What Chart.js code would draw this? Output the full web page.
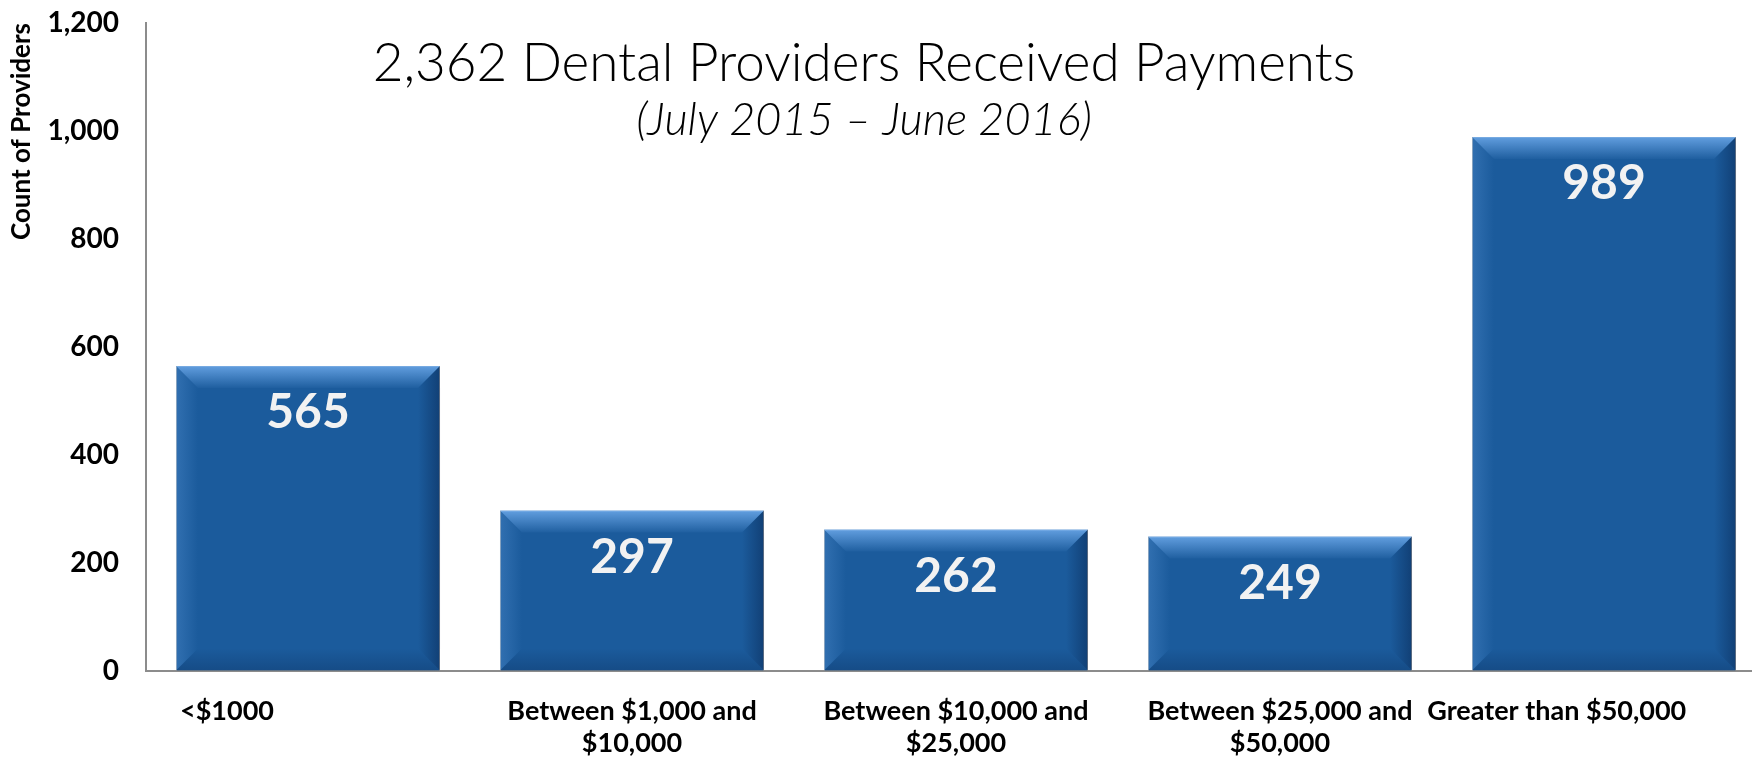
<!DOCTYPE html>
<html><head><meta charset="utf-8">
<script src="https://cdn.jsdelivr.net/npm/chart.js@4/dist/chart.umd.min.js"></script>
<style>
html,body{margin:0;padding:0;background:#fff;overflow:hidden;width:1752px;height:759px}
#wrap{position:absolute;left:0;top:0;width:1766px;height:759px}
</style></head><body><div id="wrap"><canvas id="c" width="1766" height="759"></canvas></div>
<script>
const categories = [["<$1000"], ["Between $1,000 and", "$10,000"], ["Between $10,000 and", "$25,000"], ["Between $25,000 and", "$50,000"], ["Greater than $50,000"]];
const providerCounts = [565, 297, 262, 249, 989];
const yTicks = [0, 200, 400, 600, 800, 1000, 1200];
const titleText = "2,362 Dental Providers Received Payments";
const subtitleText = "(July 2015 \u2013 June 2016)";
const yAxisTitle = "Count of Providers";

const FONT = "Lato, 'Open Sans', 'DejaVu Sans', sans-serif";

const bevelPlugin = {
  id: 'bevel',
  afterDatasetsDraw(chart) {
    const ctx = chart.ctx;
    const meta = chart.getDatasetMeta(0);
    meta.data.forEach((bar, i) => {
      const l = bar.x - bar.width / 2, r = bar.x + bar.width / 2;
      const t = bar.y, btm = bar.base;
      const b = 22;
      ctx.save();
      let g = ctx.createLinearGradient(0, t, 0, t + b);
      g.addColorStop(0, 'rgba(110,170,235,0.85)');
      g.addColorStop(1, 'rgba(110,170,235,0.05)');
      ctx.fillStyle = g;
      ctx.beginPath(); ctx.moveTo(l, t); ctx.lineTo(r, t); ctx.lineTo(r - b, t + b); ctx.lineTo(l + b, t + b); ctx.closePath(); ctx.fill();
      g = ctx.createLinearGradient(l, 0, l + b, 0);
      g.addColorStop(0, 'rgba(90,150,215,0.35)');
      g.addColorStop(1, 'rgba(90,150,215,0.0)');
      ctx.fillStyle = g;
      ctx.beginPath(); ctx.moveTo(l, t); ctx.lineTo(l + b, t + b); ctx.lineTo(l + b, btm - b); ctx.lineTo(l, btm); ctx.closePath(); ctx.fill();
      g = ctx.createLinearGradient(r, 0, r - b, 0);
      g.addColorStop(0, 'rgba(5,30,70,0.45)');
      g.addColorStop(1, 'rgba(5,30,70,0.0)');
      ctx.fillStyle = g;
      ctx.beginPath(); ctx.moveTo(r, t); ctx.lineTo(r, btm); ctx.lineTo(r - b, btm - b); ctx.lineTo(r - b, t + b); ctx.closePath(); ctx.fill();
      g = ctx.createLinearGradient(0, btm, 0, btm - b);
      g.addColorStop(0, 'rgba(5,30,70,0.25)');
      g.addColorStop(1, 'rgba(5,30,70,0.0)');
      ctx.fillStyle = g;
      ctx.beginPath(); ctx.moveTo(l, btm); ctx.lineTo(r, btm); ctx.lineTo(r - b, btm - b); ctx.lineTo(l + b, btm - b); ctx.closePath(); ctx.fill();
      ctx.fillStyle = '#f2f2f2';
      ctx.font = 'bold 48px ' + FONT;
      ctx.textAlign = 'center';
      ctx.textBaseline = 'middle';
      ctx.fillText(String(providerCounts[i]), bar.x, t + 47);
      ctx.restore();
    });
  }
};

const titlePlugin = {
  id: 'overlayTitle',
  afterDraw(chart) {
    const ctx = chart.ctx;
    ctx.save();
    ctx.fillStyle = '#000';
    ctx.textAlign = 'center';
    ctx.textBaseline = 'alphabetic';
    ctx.font = '300 53px ' + FONT;
    ctx.fillText(titleText, 864, 81);
    ctx.font = 'italic 300 45px ' + FONT;
    ctx.fillText(subtitleText, 864, 135);
    ctx.restore();
  }
};

function build() {
  new Chart(document.getElementById('c'), {
    type: 'bar',
    data: {
      labels: categories,
      datasets: [{
        data: providerCounts,
        backgroundColor: '#1b5b9c',
        borderColor: 'rgba(150,160,170,0.9)',
        borderWidth: 1,
        barPercentage: 0.815,
        categoryPercentage: 1.0
      }]
    },
    options: {
      responsive: false,
      animation: false,
      devicePixelRatio: 1,
      layout: { padding: { top: 23, right: 0, left: 0, bottom: 0 } },
      plugins: { legend: { display: false }, tooltip: { enabled: false } },
      scales: {
        x: {
          grid: { display: true, color: 'transparent', drawOnChartArea: false, drawTicks: true, tickLength: 24, tickColor: 'transparent' },
          border: { display: true, color: '#8c8c8c', width: 2 },
          ticks: {
            color: '#000',
            font: { family: FONT, weight: 'bold', size: 27 },
            padding: 0,
            maxRotation: 0,
            autoSkip: false,
            callback: function (v, i) {
              const lab = categories[i];
              if (i === 0) return lab[0] + '\u2003\u2003\u2003\u2003\u2003\u2003\u2003\u2003';
              if (i === categories.length - 1) return lab[0] + '\u2003\u2003\u2003\u2003\u2002';
              return lab;
            }
          },
          afterFit(scale) { scale.height = 88; scale.paddingLeft = 0; scale.paddingRight = 0; }
        },
        y: {
          min: 0, max: 1200,
          grid: { display: true, color: 'transparent', drawOnChartArea: false, drawTicks: true, tickLength: 27, tickColor: 'transparent' },
          border: { display: true, color: '#8c8c8c', width: 2 },
          afterBuildTicks(scale) { scale.ticks = yTicks.map(v => ({ value: v })); },
          ticks: {
            color: '#000',
            font: { family: FONT, weight: 'bold', size: 28 },
            padding: 0,
            callback: v => Number(v).toLocaleString('en-US')
          },
          title: {
            display: true,
            text: yAxisTitle,
            align: 'end',
            color: '#000',
            font: { family: FONT, weight: 'bold', size: 26 },
            padding: { top: 6, bottom: 0 }
          },
          afterFit(scale) { scale.width = 146; }
        }
      }
    },
    plugins: [bevelPlugin, titlePlugin]
  });
}

const loads = ['bold 24px Lato', '300 45px Lato', 'italic 300 39px Lato', 'bold 44px Lato'].map(f => document.fonts.load(f).catch(() => null));
Promise.all(loads).then(build, build);
</script>
</body></html>
